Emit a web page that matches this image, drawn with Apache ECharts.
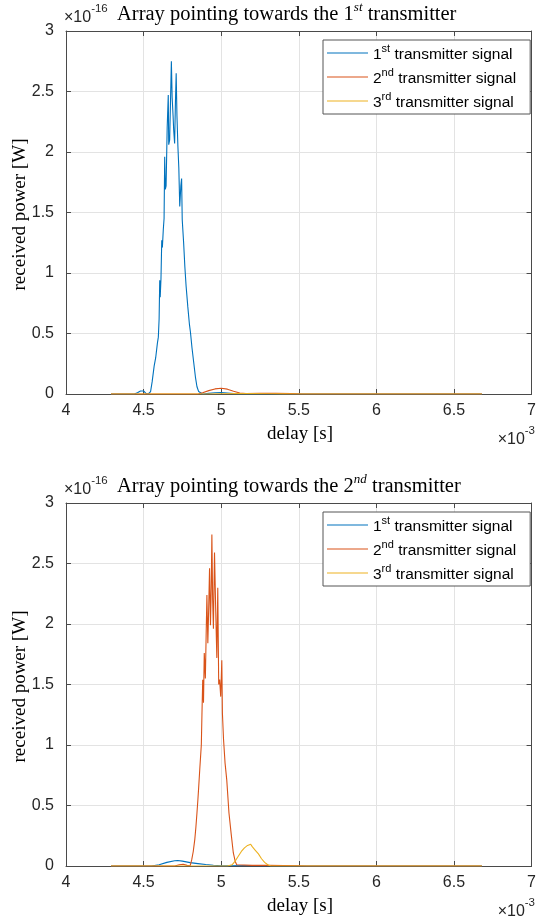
<!DOCTYPE html>
<html><head><meta charset="utf-8">
<script src="https://cdn.jsdelivr.net/npm/echarts@6/dist/echarts.min.js"></script>
<style>html,body{margin:0;padding:0;background:#fff;} #c{width:539px;height:922px;}</style>
</head><body><div id="c"></div>
<script>
// ---- Data (delay in ms, power in 1e-16 W) ----
const xTicks = [4, 4.5, 5, 5.5, 6, 6.5, 7];
const yTicks = [0, 0.5, 1, 1.5, 2, 2.5, 3];
const seriesNames = ['1st transmitter signal', '2nd transmitter signal', '3rd transmitter signal'];

// Plot 1: array pointing towards the 1st transmitter
const p1DelayA = [4.29,4.44,4.46,4.48,4.49,4.50,4.515,4.53,4.545,4.555,4.568,4.578,4.589,4.595,4.600,4.604,4.607,4.612,4.617,4.621,4.627,4.632,4.636,4.640,4.645,4.652,4.659,4.662,4.668,4.674,4.679,4.684,4.690,4.694,4.700,4.705,4.710,4.715,4.721,4.727,4.733,4.740,4.745,4.749,4.758,4.766,4.774,4.785,4.795,4.802,4.812,4.823,4.834,4.844,4.855,4.866,4.88,4.92,4.96,5.00,5.04,5.08,5.12,6.68];
const p1PowerA = [0,0,0.01,0.025,0.03,0.025,0.005,0,0.02,0.1,0.23,0.3,0.42,0.47,0.62,0.94,0.80,0.95,1.27,1.21,1.36,1.45,1.96,1.69,1.72,2.2,2.47,2.06,2.1,2.45,2.75,2.45,2.3,2.18,2.07,2.4,2.65,2.3,2.05,1.87,1.55,1.72,1.78,1.44,1.25,1.05,0.89,0.72,0.58,0.51,0.38,0.26,0.14,0.06,0.02,0.005,0,0.005,0.01,0.012,0.008,0.003,0,0];
const p1DelayB = [4.29,4.85,4.88,4.92,4.96,5.00,5.04,5.08,5.12,5.16,5.25,5.35,5.45,5.52,6.68];
const p1PowerB = [0,0,0.01,0.028,0.042,0.047,0.04,0.022,0.008,0.004,0.006,0.005,0.003,0,0];
const p1DelayC = [4.29,4.9,5.0,5.1,5.2,5.3,5.4,5.5,6.68];
const p1PowerC = [0,0,0.002,0.004,0.003,0.002,0.001,0,0];

// Plot 2: array pointing towards the 2nd transmitter
const p2DelayA = [4.29,4.55,4.60,4.65,4.70,4.72,4.75,4.80,4.85,4.90,4.95,5.00,5.05,5.15,5.25,5.35,6.68];
const p2PowerA = [0,0,0.01,0.03,0.043,0.045,0.04,0.028,0.02,0.012,0.006,0.002,0.002,0.004,0.003,0,0];
const p2DelayB = [4.29,4.70,4.73,4.755,4.78,4.80,4.81,4.82,4.83,4.837,4.844,4.850,4.855,4.862,4.867,4.872,4.876,4.881,4.886,4.891,4.898,4.903,4.908,4.914,4.919,4.925,4.931,4.936,4.940,4.945,4.950,4.957,4.965,4.972,4.978,4.984,4.990,4.997,5.004,5.008,5.015,5.025,5.036,5.050,5.064,5.078,5.090,5.100,5.2,5.3,5.4,5.5,5.55,6.68];
const p2PowerB = [0,0,0.01,0.015,0.005,0.002,0.05,0.12,0.22,0.32,0.44,0.55,0.65,0.8,0.9,1.0,1.25,1.54,1.35,1.76,1.55,1.9,2.24,1.84,2.1,2.46,1.99,2.3,2.74,2.2,1.96,2.59,2.1,1.72,2.30,1.5,1.54,1.4,1.70,1.26,1.05,0.85,0.71,0.44,0.27,0.11,0.04,0.01,0.005,0.006,0.004,0.002,0,0];
const p2DelayC = [4.29,5.04,5.07,5.09,5.11,5.13,5.14,5.15,5.16,5.17,5.18,5.19,5.20,5.21,5.22,5.24,5.26,5.28,5.30,5.32,6.68];
const p2PowerC = [0,0,0.01,0.04,0.08,0.12,0.13,0.15,0.14,0.17,0.16,0.18,0.16,0.15,0.13,0.1,0.06,0.03,0.01,0,0];

const colors = ['#0072BD', '#D95319', '#EDB120'];
const pair = (xs, ys) => xs.map((x, i) => [x, ys[i]]);

const grids = [
  { left: 66, top: 31, width: 469, height: 363 },
  { left: 66, top: 503, width: 469, height: 363 }
];
const axisCol = '#4a4a4a';
const labCol = '#262626';
const sans = 'Liberation Sans, Arial, sans-serif';
const serif = 'Liberation Serif, Times New Roman, serif';

const xAxes = [], yAxes = [];
grids.forEach((g, gi) => {
  xAxes.push({
    type: 'value', gridIndex: gi, min: xTicks[0], max: xTicks[xTicks.length - 1], interval: 0.5,
    position: 'bottom',
    axisLine: { show: true, onZero: false, lineStyle: { color: axisCol, width: 1 } },
    axisTick: { show: true, inside: true, length: 5, lineStyle: { color: axisCol } },
    axisLabel: { show: true, color: labCol, fontFamily: sans, fontSize: 16, margin: 9, showMinLabel: true, showMaxLabel: true,
      formatter: v => String(+v.toFixed(1)) },
    splitLine: { show: true, lineStyle: { color: '#e3e3e3', width: 1 } }
  });
  xAxes.push({
    type: 'value', gridIndex: gi, min: xTicks[0], max: xTicks[xTicks.length - 1], interval: 0.5,
    position: 'top',
    axisLine: { show: true, onZero: false, lineStyle: { color: axisCol, width: 1 } },
    axisTick: { show: true, inside: true, length: 5, lineStyle: { color: axisCol } },
    axisLabel: { show: false }, splitLine: { show: false }
  });
  yAxes.push({
    type: 'value', gridIndex: gi, min: yTicks[0], max: yTicks[yTicks.length - 1], interval: 0.5,
    position: 'left',
    axisLine: { show: true, onZero: false, lineStyle: { color: axisCol, width: 1 } },
    axisTick: { show: true, inside: true, length: 5, lineStyle: { color: axisCol } },
    axisLabel: { show: true, color: labCol, fontFamily: sans, fontSize: 16, margin: 12, showMinLabel: true, showMaxLabel: true,
      formatter: v => String(+v.toFixed(1)) },
    splitLine: { show: true, lineStyle: { color: '#e3e3e3', width: 1 } }
  });
  yAxes.push({
    type: 'value', gridIndex: gi, min: yTicks[0], max: yTicks[yTicks.length - 1], interval: 0.5,
    position: 'right',
    axisLine: { show: true, onZero: false, lineStyle: { color: axisCol, width: 1 } },
    axisTick: { show: true, inside: true, length: 5, lineStyle: { color: axisCol } },
    axisLabel: { show: false }, splitLine: { show: false }
  });
});

const plotData = [
  [pair(p1DelayA, p1PowerA), pair(p1DelayB, p1PowerB), pair(p1DelayC, p1PowerC)],
  [pair(p2DelayA, p2PowerA), pair(p2DelayB, p2PowerB), pair(p2DelayC, p2PowerC)]
];
const series = [];
plotData.forEach((sets, gi) => {
  sets.forEach((d, si) => {
    series.push({
      type: 'line', name: seriesNames[si], xAxisIndex: gi * 2, yAxisIndex: gi * 2,
      data: d, showSymbol: false, symbol: 'none', smooth: false,
      lineStyle: { color: colors[si], width: 1.1 }, itemStyle: { color: colors[si] },
      emphasis: { disabled: true }, animation: false
    });
  });
});

const supRich = {
  n: { fontFamily: sans, fontSize: 15.5, color: '#000', lineHeight: 20, verticalAlign: 'bottom' },
  s: { fontFamily: sans, fontSize: 11, color: '#000', lineHeight: 13, verticalAlign: 'top' }
};
const legendFmt = name => {
  const m = name.match(/^(\d)(st|nd|rd)(.*)$/);
  return '{n|' + m[1] + '}{s|' + m[2] + '}{n|' + m[3] + '}';
};
const legends = grids.map((g, gi) => ({
  data: seriesNames.map(n => ({ name: n })),
  orient: 'vertical', left: 323, top: g.top + 9,
  itemWidth: 41, itemHeight: 1.2, icon: 'rect', itemGap: 4,
  padding: [3, 14, 3, 4],
  backgroundColor: '#fff', borderColor: '#555', borderWidth: 1,
  textStyle: { rich: supRich }, formatter: legendFmt,
  selectedMode: false
}));

const titles = ['1', '2'];
const titleSup = ['st', 'nd'];
const graphic = [];
grids.forEach((g, gi) => {
  const top = g.top;
  const bottom = g.top + g.height;
  graphic.push({
    type: 'text', left: 64, top: top - 28,
    style: { text: '{a|×10}{b|-16}', rich: {
      a: { fontFamily: sans, fontSize: 16, fill: labCol, lineHeight: 23, verticalAlign: 'bottom' },
      b: { fontFamily: sans, fontSize: 11.5, fill: labCol, lineHeight: 12, verticalAlign: 'top' } } }
  });
  graphic.push({
    type: 'text', left: 117, top: top - 30,
    style: { text: '{a|Array pointing towards the ' + titles[gi] + '}{b|' + titleSup[gi] + '}{a| transmitter}', rich: {
      a: { fontFamily: serif, fontSize: 20.5, fill: '#000', lineHeight: 24, verticalAlign: 'bottom' },
      b: { fontFamily: serif, fontSize: 13, fontStyle: 'italic', fill: '#000', lineHeight: 14, verticalAlign: 'top' } } }
  });
  graphic.push({
    type: 'text', x: 300, y: bottom + 40,
    style: { text: 'delay [s]', font: '19px ' + serif, fill: '#000', align: 'center', verticalAlign: 'middle' }
  });
  graphic.push({
    type: 'text', right: 4, top: bottom + 31,
    style: { text: '{a|×10}{b|-3}', rich: {
      a: { fontFamily: sans, fontSize: 16, fill: labCol, lineHeight: 23, verticalAlign: 'bottom' },
      b: { fontFamily: sans, fontSize: 11.5, fill: labCol, lineHeight: 12, verticalAlign: 'top' } } }
  });
  graphic.push({
    type: 'text', x: 20, y: top + g.height / 2 + 2, rotation: Math.PI / 2,
    style: { text: 'received power [W]', font: '19px ' + serif, fill: '#000', align: 'center', verticalAlign: 'middle' }
  });
});

const chart = echarts.init(document.getElementById('c'), null, { renderer: 'canvas' });
chart.setOption({
  animation: false,
  backgroundColor: '#fff',
  grid: grids.map(g => Object.assign({ containLabel: false }, g)),
  xAxis: xAxes, yAxis: yAxes, series, legend: legends, graphic
});
</script></body></html>
